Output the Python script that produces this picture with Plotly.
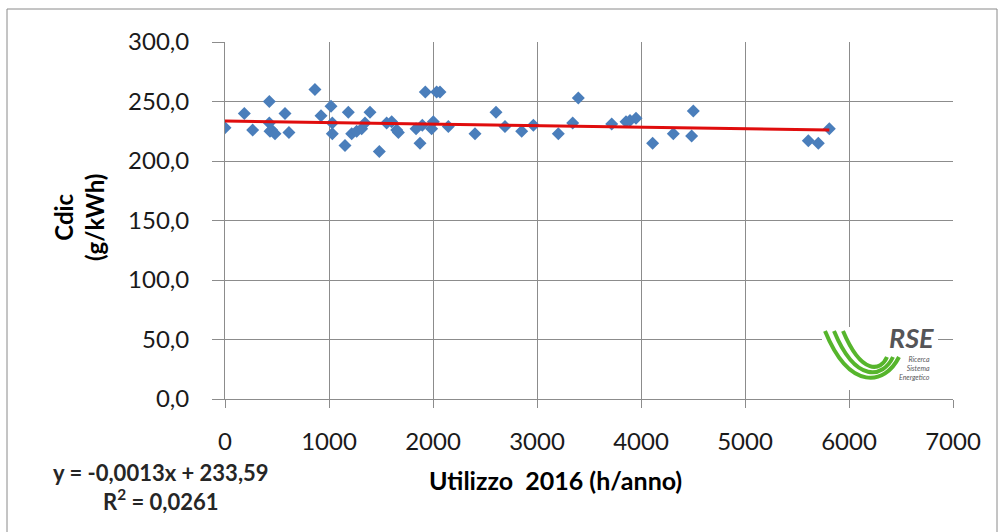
import plotly.graph_objects as go

# Operating hours in 2016 (h/anno) and specific emissions Cdic (g/kWh)
utilizzo_h = [0, 186, 266, 426, 426, 449, 433, 481, 577, 615, 865, 923, 1019, 1032, 1032,
              1154, 1186, 1218, 1266, 1314, 1346, 1394, 1484, 1554, 1603, 1651, 1667, 1837,
              1875, 1897, 1926, 1987, 2003, 2035, 2067, 2147, 2404, 2606, 2692, 2853, 2965,
              3205, 3343, 3397, 3718, 3856, 3894, 3952, 4112, 4311, 4487, 4503, 5609, 5705, 5811]
cdic_g_kwh = [228, 240, 226, 250, 232, 226, 225, 223, 240, 224, 260, 238, 246, 232, 223,
              213, 241, 223, 225, 227, 232, 241, 208, 232, 233, 226, 224, 227,
              215, 230, 258, 227, 233, 258, 258, 229, 223, 241, 229, 225, 230,
              223, 232, 253, 231, 233, 234, 236, 215, 223, 221, 242, 217, 215, 227]

# Linear trend line parameters (as stated in the equation label)
trend_slope = -0.0013
trend_intercept = 233.59
trend_r2 = 0.0261

x_ticks = [0, 1000, 2000, 3000, 4000, 5000, 6000, 7000]
y_ticks = [0, 50, 100, 150, 200, 250, 300]

W, H = 1000, 532
L, R, T, B = 225, 953, 42, 399


def px(x):
    return (x - L) / (R - L)


def py(y):
    return (B - y) / (B - T)


def path_from(points_cmds):
    out = []
    for cmd, pts in points_cmds:
        coords = " ".join(f"{px(a):.5f},{py(b):.5f}" for a, b in pts)
        out.append(f"{cmd} {coords}")
    return " ".join(out)


font_family = "Lato, 'Open Sans', sans-serif"
txt_color = "#1a1a1a"
grid_color = "#8c8c8c"

x_line = [min(utilizzo_h), max(utilizzo_h)]
y_line = [trend_slope * v + trend_intercept for v in x_line]

fig = go.Figure()
fig.add_trace(go.Scatter(
    x=utilizzo_h, y=cdic_g_kwh, mode="markers",
    marker=dict(symbol="diamond", size=10, color="#4a7ebb", line=dict(width=0)),
    showlegend=False, hoverinfo="x+y",
))
fig.add_trace(go.Scatter(
    x=x_line, y=y_line, mode="lines",
    line=dict(color="#e00d0d", width=3),
    showlegend=False, hoverinfo="skip",
))

shapes = [
    # outer chart frame
    dict(type="rect", xref="paper", yref="paper",
         x0=px(7), x1=px(997), y0=py(545), y1=py(9),
         line=dict(color="#8a8a8a", width=1), fillcolor="rgba(0,0,0,0)", layer="below"),
    # logo backdrop
    dict(type="rect", xref="paper", yref="paper",
         x0=px(822), x1=px(938), y0=py(390), y1=py(327),
         line=dict(width=0), fillcolor="white", layer="above"),
]

# RSE logo swooshes
green = "#56b52c"
swooshes = [
    [(825, 331), (850, 392), (885, 385), (899, 357)],
    [(834, 331), (856, 384), (883, 378), (893, 357)],
    [(843, 331), (862, 376), (881, 371), (887, 357)],
]
for sw in swooshes:
    shapes.append(dict(
        type="path", xref="paper", yref="paper",
        path=path_from([("M", [sw[0]]), ("C", sw[1:])]),
        line=dict(color=green, width=4), layer="above",
    ))

eq_text = (f"y = {trend_slope:.4f}x + {trend_intercept:.2f}".replace(".", ",")
           + "<br>" + f"R<sup>2</sup> = {trend_r2:.4f}".replace(".", ","))

annotations = [
    dict(text="<b>Cdic<br>(g/kWh)</b>", textangle=-90, x=px(79), y=py(218),
         xref="paper", yref="paper", showarrow=False, xanchor="center", yanchor="middle",
         font=dict(family=font_family, size=24, color="#000000")),
    dict(text="<b>Utilizzo  2016 (h/anno)</b>", x=px(555), y=py(480),
         xref="paper", yref="paper", showarrow=False, xanchor="center", yanchor="middle",
         font=dict(family=font_family, size=25, color="#000000")),
    dict(text=f"<b>{eq_text}</b>", x=px(161), y=py(487), align="center",
         xref="paper", yref="paper", showarrow=False, xanchor="center", yanchor="middle",
         font=dict(family=font_family, size=22, color="#262626")),
    dict(text="<b><i>RSE</i></b>", x=px(911), y=py(337),
         xref="paper", yref="paper", showarrow=False, xanchor="center", yanchor="middle",
         font=dict(family=font_family, size=27, color="#555557")),
    dict(text="<i>Ricerca<br>Sistema<br>Energetico</i>", x=px(932), y=py(368),
         align="right",
         xref="paper", yref="paper", showarrow=False, xanchor="right", yanchor="middle",
         font=dict(family=font_family, size=7, color="#58595b")),
]

fig.update_layout(
    width=W, height=H,
    margin=dict(l=L, r=W - R, t=T, b=H - B, pad=0),
    paper_bgcolor="white", plot_bgcolor="white",
    separators=",.",
    font=dict(family=font_family, color=txt_color),
    shapes=shapes, annotations=annotations,
    xaxis=dict(
        range=[0, 7000], tickvals=x_ticks, tickformat="d",
        showgrid=True, gridcolor=grid_color, gridwidth=1,
        showline=True, linecolor=grid_color, linewidth=1,
        ticks="outside", ticklen=8, tickcolor=grid_color,
        ticklabelstandoff=13,
        tickfont=dict(size=24, color=txt_color, family=font_family),
        zeroline=False, fixedrange=True,
    ),
    yaxis=dict(
        range=[0, 300], tickvals=y_ticks, tickformat=".1f",
        showgrid=True, gridcolor=grid_color, gridwidth=1,
        showline=True, linecolor=grid_color, linewidth=1,
        ticks="outside", ticklen=12, tickcolor=grid_color,
        ticklabelstandoff=18,
        tickfont=dict(size=24, color=txt_color, family=font_family),
        zeroline=False, fixedrange=True,
    ),
)

fig.write_html("out.html")
